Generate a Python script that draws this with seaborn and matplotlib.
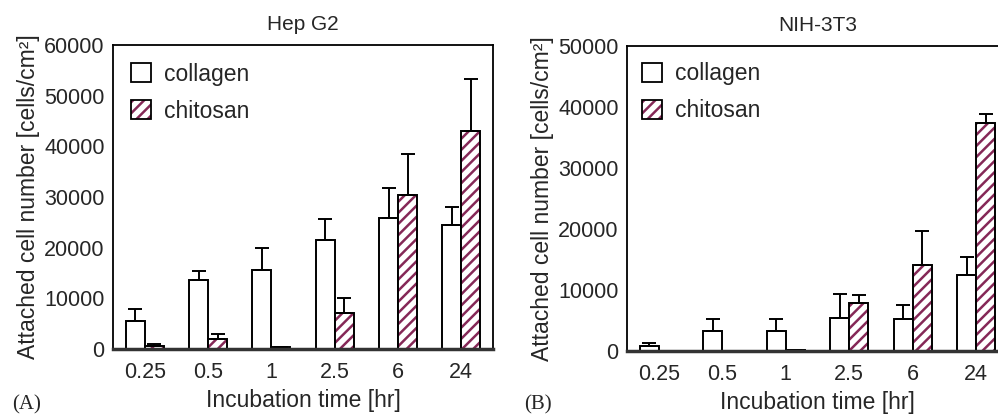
import numpy as np
import pandas as pd
import matplotlib
matplotlib.use("Agg")
import matplotlib.pyplot as plt
import seaborn as sns
from matplotlib.patches import Patch

# ---------------- data ----------------
times = ["0.25", "0.5", "1", "2.5", "6", "24"]
substrates = ["collagen", "chitosan"]

hep_collagen = [5500, 13700, 15500, 21600, 25900, 24500]
hep_collagen_err = [2300, 1750, 4400, 4100, 5800, 3600]
hep_chitosan = [500, 2000, 300, 7100, 30400, 43100]
hep_chitosan_err = [500, 1000, 150, 2950, 8000, 10200]

nih_collagen = [800, 3200, 3200, 5400, 5300, 12400]
nih_collagen_err = [450, 2000, 2000, 4000, 2200, 3000]
nih_chitosan = [60, 40, 120, 7900, 14100, 37400]
nih_chitosan_err = [0, 0, 0, 1200, 5500, 1400]

titles = ["Hep G2", "NIH-3T3"]
ylims = [60000, 50000]
panel_tags = ["(A)", "(B)"]

HATCH_COLOR = "#852857"

sns.set_theme(style="white")
plt.rcParams["font.family"] = ["Liberation Sans", "DejaVu Sans"]
plt.rcParams["hatch.linewidth"] = 1.8

fig = plt.figure(figsize=(9.98, 4.16), dpi=100)
ax_a = fig.add_axes([113 / 998, 1 - 349 / 416, 380 / 998, 304 / 416])
ax_b = fig.add_axes([627 / 998, 1 - 351 / 416, 381 / 998, 305 / 416])

panels = [
    (ax_a, hep_collagen, hep_collagen_err, hep_chitosan, hep_chitosan_err),
    (ax_b, nih_collagen, nih_collagen_err, nih_chitosan, nih_chitosan_err),
]
leg_anchor = [(-0.008, 1.01), (-0.016, 1.015)]

for k, (ax, col, col_e, chi, chi_e) in enumerate(panels):
    df = pd.DataFrame({
        "time": times * 2,
        "substrate": ["collagen"] * 6 + ["chitosan"] * 6,
        "value": col + chi,
    })
    sns.barplot(data=df, x="time", y="value", hue="substrate", order=times,
                hue_order=substrates, palette=["white", "white"], width=0.6,
                edgecolor="black", linewidth=1.4, errorbar=None, legend=False,
                ax=ax, saturation=1)
    errs = [col_e, chi_e]
    vals = [col, chi]
    for ci, cont in enumerate(ax.containers[:2]):
        xs = []
        for p in cont.patches:
            xs.append(p.get_x() + p.get_width() / 2)
            if ci == 1:
                p.set_hatch("///")
                p._hatch_color = matplotlib.colors.to_rgba(HATCH_COLOR)
        xs = np.array(xs)
        ax.errorbar(xs, vals[ci], yerr=[np.zeros(6), errs[ci]], fmt="none",
                    ecolor="black", elinewidth=1.4, capsize=5, capthick=1.4,
                    zorder=1)
    ax.set_ylim(0, ylims[k])
    ax.set_xlim(-0.5, 5.5)
    ax.set_yticks(np.arange(0, ylims[k] + 1, 10000))
    ax.tick_params(axis="both", labelsize=15.5, length=0, pad=6)
    ax.tick_params(axis="x", pad=9)
    ax.set_xticks(np.arange(0.5, 5.5, 1.0), minor=True)
    ax.tick_params(axis="x", which="minor", length=3, color="#888888",
                   direction="out", width=1)
    ax.set_xlabel("Incubation time [hr]", fontsize=16.5, labelpad=5)
    ax.set_ylabel("Attached cell number [cells/cm²]", fontsize=16.5, labelpad=3)
    ax.set_title(titles[k], fontsize=15, pad=11)
    for side in ["left", "top", "right"]:
        ax.spines[side].set_color("black")
        ax.spines[side].set_linewidth(1.3)
    ax.spines["bottom"].set_color("#333333")
    ax.spines["bottom"].set_linewidth(2.5)
    handles = [Patch(facecolor="white", edgecolor="black", linewidth=1.3),
               Patch(facecolor="white", edgecolor="black", linewidth=1.3,
                     hatch="///")]
    leg = ax.legend(handles, substrates, loc="upper left", frameon=False,
                    fontsize=16.5, handlelength=0.9, handleheight=0.9,
                    handletextpad=0.55, labelspacing=0.62,
                    bbox_to_anchor=leg_anchor[k])
    leg.legend_handles[1]._hatch_color = matplotlib.colors.to_rgba(HATCH_COLOR)

fig.text(12 / 998, 1 - 405 / 416, panel_tags[0], fontsize=15,
         family=["Liberation Serif", "DejaVu Serif"], va="center", ha="left")
fig.text(524 / 998, 1 - 405 / 416, panel_tags[1], fontsize=15,
         family=["Liberation Serif", "DejaVu Serif"], va="center", ha="left")

fig.savefig("out.png", dpi=100)
